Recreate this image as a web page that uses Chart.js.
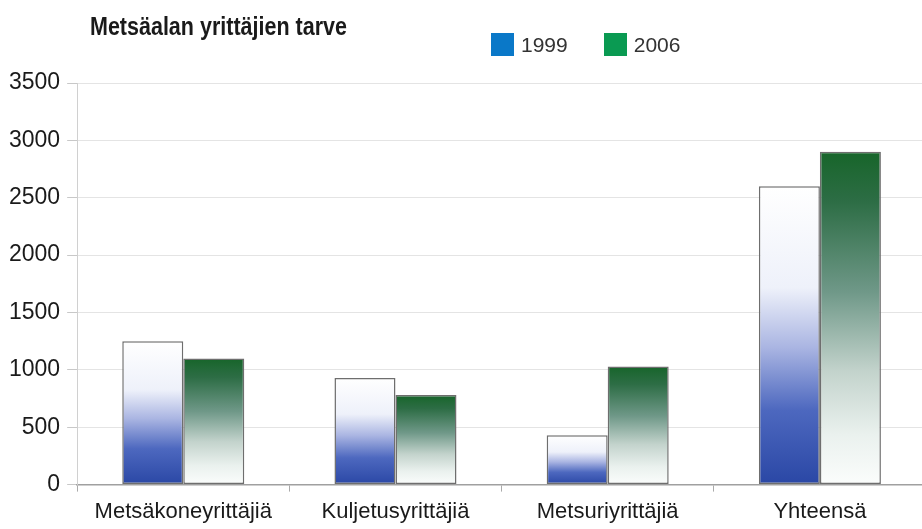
<!DOCTYPE html>
<html>
<head>
<meta charset="utf-8">
<script src="https://cdn.jsdelivr.net/npm/chart.js@4/dist/chart.umd.min.js"></script>
<style>
  body { margin: 0; background: #fff; }
  #wrap { position: relative; width: 922px; height: 529px; overflow: hidden; }
  #chart { position: absolute; left: 0; top: 0; }
  .title {
    position: absolute; left: 90px; top: 12px;
    font-family: "Liberation Sans", sans-serif;
    font-weight: bold; font-size: 25px; color: #1a1a1a; white-space: nowrap;
    transform: scaleX(0.86); transform-origin: left top;
  }
  .legend {
    position: absolute; top: 33px; left: 491px;
    font-family: "Liberation Sans", sans-serif; font-size: 21px; color: #333;
    display: flex; align-items: center;
  }
  .legend span.box { display: inline-block; width: 23px; height: 23px; margin-right: 7px; }
  .legend span.txt { margin-right: 36px; line-height: 23px; }
</style>
</head>
<body>
<div id="wrap">
  <canvas id="chart" width="926" height="532"></canvas>
  <div class="title">Metsäalan yrittäjien tarve</div>
  <div class="legend">
    <span class="box" style="background:#0a78c8"></span><span class="txt">1999</span>
    <span class="box" style="background:#0a9a52"></span><span class="txt">2006</span>
  </div>
</div>
<script>
// chart data
const categories = ['Metsäkoneyrittäjiä', 'Kuljetusyrittäjiä', 'Metsuriyrittäjiä', 'Yhteensä'];
const values1999 = [1250, 930, 430, 2600];
const values2006 = [1100, 780, 1030, 2900];
const yTicks = [0, 500, 1000, 1500, 2000, 2500, 3000, 3500];

const blueStops = [[0, '#ffffff'], [0.34, '#eef1fa'], [0.54, '#aab5e2'], [0.75, '#4d68bf'], [1, '#2a47a5']];
const greenStops = [[0, '#17652a'], [0.15, '#2d6d45'], [0.42, '#6f9888'], [0.66, '#c3d3cc'], [0.85, '#eaf1ee'], [1, '#fbfdfc']];

// gradient from the top of each bar down to zero
function barGradient(ctx, stops) {
    const chart = ctx.chart;
    if (!chart.chartArea || ctx.type !== 'data') return stops[stops.length - 1][1];
    const y = chart.scales.y;
    const top = y.getPixelForValue(ctx.raw);
    const bottom = y.getPixelForValue(0);
    const g = chart.ctx.createLinearGradient(0, top, 0, bottom);
    stops.forEach(s => g.addColorStop(s[0], s[1]));
    return g;
}

new Chart(document.getElementById('chart'), {
    type: 'bar',
    data: {
        labels: categories,
        datasets: [{
            label: '1999',
            data: values1999,
            backgroundColor: ctx => barGradient(ctx, blueStops),
            borderColor: '#6e6e6e',
            borderWidth: 1.5,
            borderSkipped: false
        }, {
            label: '2006',
            data: values2006,
            backgroundColor: ctx => barGradient(ctx, greenStops),
            borderColor: '#6e6e6e',
            borderWidth: 1.5,
            borderSkipped: false
        }]
    },
    options: {
        responsive: false,
        animation: false,
        devicePixelRatio: 1,
        layout: { padding: { top: 83, left: 2, right: 0, bottom: 0 } },
        datasets: { bar: { categoryPercentage: 0.575, barPercentage: 1.0 } },
        plugins: {
            legend: { display: false },
            tooltip: { enabled: false }
        },
        scales: {
            x: {
                grid: { drawOnChartArea: false, drawTicks: true, tickLength: 7, color: '#aaaaaa' },
                border: { color: '#a0a0a0', width: 1.5 },
                ticks: {
                    color: '#1a1a1a', padding: 7,
                    font: { family: 'Liberation Sans', size: 22 }
                }
            },
            y: {
                min: 0,
                max: 3500,
                afterBuildTicks: axis => { axis.ticks = yTicks.map(v => ({ value: v })); },
                grid: { color: '#e4e4e4', tickLength: 10, tickColor: '#c8c8c8' },
                border: { color: '#d0d0d0' },
                ticks: {
                    color: '#1a1a1a', padding: 7,
                    font: { family: 'Liberation Sans', size: 23 },
                    callback: v => String(v)
                }
            }
        }
    }
});
</script>
</body>
</html>
